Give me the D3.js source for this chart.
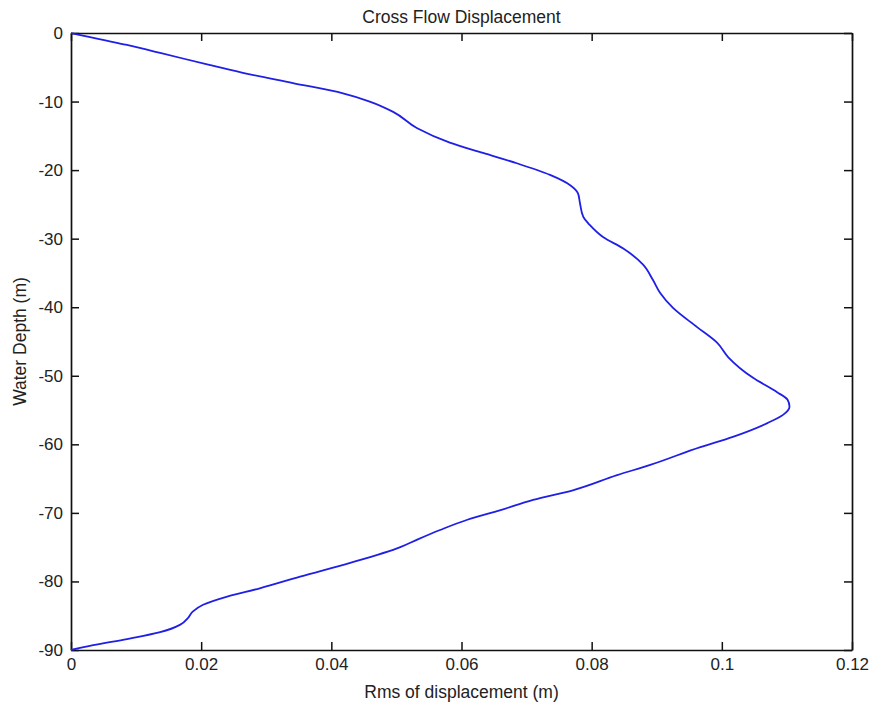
<!DOCTYPE html>
<html>
<head>
<meta charset="utf-8">
<script src="https://cdn.jsdelivr.net/npm/d3@7"></script>
<style>
  body { margin: 0; background: #fff; }
  text { font-family: "Liberation Sans", Arial, Helvetica, sans-serif; fill: #222; }
</style>
</head>
<body>
<div id="chart"></div>
<script>
// rms displacement (m) read along the profile, top to bottom
var depth = [0, -1.75, -2.9, -4.7, -5.8, -7.3, -8.8, -10.0, -11.5, -13.9, -16.0, -17.5, -19.0, -20.7, -22.2,
    -23.4, -24.8, -26.8, -28.0, -29.8, -31.4, -33.8, -36.0, -37.9, -40.1, -42.9, -45.2, -47.3, -50.3,
    -52.4, -53.5, -54.5, -55.7, -56.9, -58.9, -60.4, -63.0, -64.5, -66.7, -68.1, -69.6, -71.0, -72.5,
    -73.9, -75.0, -77.3, -79.3, -81.0, -82.2, -83.4, -84.4, -85.3, -86.3, -87.4, -88.4, -89.3, -90];
var rms = [0, 0.0086, 0.0137, 0.0214, 0.0264, 0.0341, 0.0418, 0.0459, 0.0495, 0.0532, 0.0582, 0.0633, 0.0685,
    0.0736, 0.0767, 0.0779, 0.0782, 0.0787, 0.0797, 0.0818, 0.0848, 0.0879, 0.0894, 0.0905, 0.0925,
    0.0962, 0.0993, 0.1010, 0.1048, 0.1085, 0.1101, 0.1104, 0.1094, 0.1070, 0.1017, 0.0967, 0.0890,
    0.0839, 0.0771, 0.0710, 0.0660, 0.0609, 0.0567, 0.0532, 0.0506, 0.0429, 0.0352, 0.0290, 0.0240,
    0.0203, 0.0187, 0.0180, 0.0168, 0.0137, 0.0086, 0.0034, 0];
var xTicks = [0, 0.02, 0.04, 0.06, 0.08, 0.1, 0.12];
var yTicks = [0, -10, -20, -30, -40, -50, -60, -70, -80, -90];

var width = 869, height = 710;
var margin = {top: 33, right: 17, bottom: 60, left: 71};
var w = width - margin.left - margin.right;
var h = height - margin.top - margin.bottom;

var svg = d3.select("#chart").append("svg")
    .attr("width", width)
    .attr("height", height);
var g = svg.append("g")
    .attr("transform", "translate(" + margin.left + "," + margin.top + ")");

var x = d3.scaleLinear().domain([0, 0.12]).range([0, w]);
var y = d3.scaleLinear().domain([0, -90]).range([0, h]);

// plain hyphen minus like the original
var fmt = function (d) { return String(d); };

//axes with inward ticks on all four sides
g.append("g")
    .attr("class", "axis")
    .attr("transform", "translate(0," + h + ")")
    .call(d3.axisBottom(x).tickValues(xTicks).tickFormat(fmt).tickSizeInner(-8).tickSizeOuter(0).tickPadding(8));
g.append("g")
    .attr("class", "axis")
    .call(d3.axisTop(x).tickValues(xTicks).tickFormat("").tickSizeInner(-8).tickSizeOuter(0));
g.append("g")
    .attr("class", "axis")
    .call(d3.axisLeft(y).tickValues(yTicks).tickFormat(fmt).tickSizeInner(-8).tickSizeOuter(0).tickPadding(8));
g.append("g")
    .attr("class", "axis")
    .attr("transform", "translate(" + w + ",0)")
    .call(d3.axisRight(y).tickValues(yTicks).tickFormat("").tickSizeInner(-8).tickSizeOuter(0));

g.selectAll(".axis path.domain").attr("stroke", "#111").attr("stroke-width", 1.7);
g.selectAll(".axis line").attr("stroke", "#111").attr("stroke-width", 1.5);
g.selectAll(".axis text").attr("font-size", 17).attr("fill", "#222")
    .attr("font-family", "'Liberation Sans', Arial, sans-serif");

//profile line
var pts = d3.zip(rms, depth);
var line = d3.line()
    .x(function (d) { return x(d[0]); })
    .y(function (d) { return y(d[1]); })
    .curve(d3.curveMonotoneY);
g.append("path")
    .datum(pts)
    .attr("fill", "none")
    .attr("stroke", "#1f1fe6")
    .attr("stroke-width", 1.8)
    .attr("d", line);

//titles
svg.append("text")
    .attr("x", margin.left + w / 2)
    .attr("y", 23)
    .attr("text-anchor", "middle")
    .attr("font-size", 17.5)
    .text("Cross Flow Displacement");
svg.append("text")
    .attr("x", margin.left + w / 2)
    .attr("y", 698)
    .attr("text-anchor", "middle")
    .attr("font-size", 17.5)
    .text("Rms of displacement (m)");
svg.append("text")
    .attr("transform", "translate(26," + (margin.top + h / 2) + ") rotate(-90)")
    .attr("text-anchor", "middle")
    .attr("font-size", 17.5)
    .text("Water Depth (m)");
</script>
</body>
</html>
